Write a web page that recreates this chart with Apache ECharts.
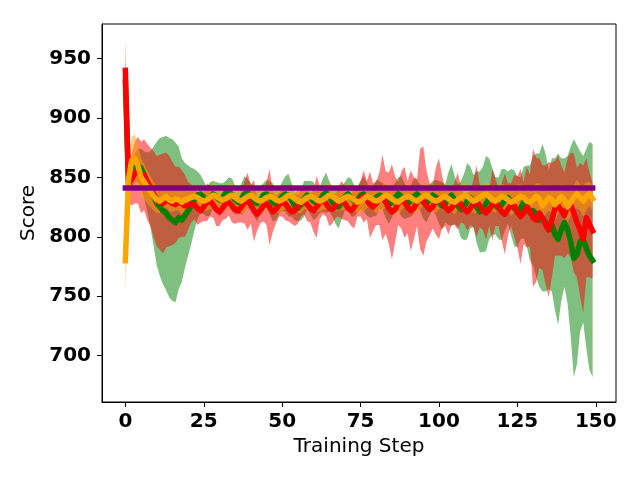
<!DOCTYPE html>
<html>
<head>
<meta charset="utf-8">
<script src="https://cdn.jsdelivr.net/npm/echarts@6/dist/echarts.min.js"></script>
<style>
  html, body { margin: 0; padding: 0; background: #fff; }
  #chart { width: 640px; height: 480px; }
</style>
</head>
<body>
<div id="chart"></div>
<script>
// tick labels
const xTicks = [0, 25, 50, 75, 100, 125, 150]
const yTicks = [700, 750, 800, 850, 900, 950]

// purple reference level
const baselineScore = 841
const lastStep = 149

// mean curves, one value per training step (0..149)
const greenMean = [
  930, 845, 852, 858, 860, 858, 852, 846, 840, 834,
  828, 825, 822, 820, 816, 814, 812, 816, 814, 818,
  822, 826, 831, 835, 836, 833, 829, 832, 836, 834,
  831, 833, 837, 838, 835, 831, 829, 832, 836, 837,
  834, 830, 828, 831, 835, 836, 833, 829, 827, 830,
  834, 836, 835, 831, 826, 824, 827, 832, 835, 833,
  830, 828, 831, 835, 837, 834, 829, 826, 825, 829,
  834, 836, 833, 830, 831, 835, 836, 832, 828, 830,
  833, 835, 834, 830, 827, 829, 833, 836, 834, 830,
  828, 830, 834, 836, 833, 829, 828, 831, 835, 833,
  829, 826, 828, 832, 835, 831, 826, 823, 825, 830,
  833, 830, 825, 821, 823, 828, 832, 830, 826, 824,
  827, 831, 833, 829, 824, 821, 824, 829, 826, 820,
  822, 818, 814, 816, 812, 806, 810, 802, 798, 806,
  812, 806, 796, 782, 785, 796, 798, 790, 784, 780
]
const redMean = [
  940, 845, 848, 854, 856, 850, 852, 846, 842, 836,
  830, 829, 828, 831, 830, 828, 827, 829, 828, 826,
  826, 828, 827, 824, 822, 825, 829, 830, 827, 823,
  821, 824, 828, 829, 826, 823, 822, 825, 829, 830,
  827, 822, 819, 822, 826, 828, 825, 821, 823, 827,
  829, 828, 824, 821, 822, 826, 829, 830, 827, 824,
  822, 825, 829, 831, 828, 824, 823, 826, 830, 831,
  828, 824, 822, 825, 829, 832, 834, 831, 827, 825,
  828, 832, 833, 829, 824, 821, 823, 828, 831, 829,
  825, 822, 824, 829, 832, 830, 826, 823, 825, 830,
  832, 829, 825, 822, 824, 828, 830, 827, 823, 821,
  824, 828, 830, 826, 822, 820, 823, 827, 829, 825,
  821, 819, 823, 827, 826, 821, 817, 820, 825, 822,
  816, 814, 820, 816, 810, 806, 814, 824, 826, 822,
  818, 826, 827, 820, 812, 806, 798, 816, 810, 805
]
const orangeMean = [
  780, 848, 864, 866, 860, 850, 846, 842, 838, 834,
  831, 830, 832, 834, 831, 830, 832, 831, 829, 831,
  832, 833, 834, 833, 831, 830, 831, 833, 835, 834,
  832, 831, 832, 834, 835, 833, 831, 830, 832, 834,
  835, 833, 831, 830, 831, 833, 834, 833, 831, 830,
  831, 833, 835, 834, 832, 830, 829, 831, 833, 834,
  833, 831, 830, 831, 833, 835, 834, 832, 830, 831,
  833, 834, 833, 831, 829, 830, 832, 834, 833, 831,
  830, 831, 833, 835, 834, 832, 830, 829, 831, 833,
  834, 833, 831, 830, 832, 834, 835, 833, 831, 830,
  831, 833, 834, 832, 830, 829, 831, 833, 835, 834,
  832, 830, 831, 833, 835, 836, 834, 831, 830, 832,
  834, 833, 831, 829, 830, 832, 834, 833, 830, 829,
  831, 834, 832, 826, 829, 833, 831, 827, 830, 834,
  831, 825, 829, 833, 836, 833, 830, 834, 836, 832
]

// spread (std) of each run, band = mean +/- spread
const greenStd = [
  5, 8, 10, 12, 14, 16, 20, 25, 32, 42,
  52, 58, 62, 65, 67, 68, 67, 60, 52, 44,
  38, 32, 26, 20, 16, 14, 12, 14, 11, 12,
  14, 12, 10, 12, 14, 12, 10, 13, 15, 12,
  11, 13, 15, 12, 10, 12, 14, 16, 13, 11,
  12, 15, 18, 14, 12, 11, 13, 15, 12, 14,
  16, 12, 11, 14, 17, 13, 12, 15, 18, 14,
  12, 14, 16, 13, 11, 12, 15, 14, 12, 13,
  15, 12, 11, 14, 16, 13, 12, 14, 17, 15,
  12, 13, 15, 12, 11, 14, 16, 13, 12, 15,
  18, 20, 16, 22, 26, 20, 18, 24, 28, 32,
  26, 22, 30, 34, 36, 40, 34, 28, 24, 26,
  30, 26, 22, 28, 32, 30, 26, 30, 34, 40,
  46, 52, 56, 62, 58, 50, 56, 64, 72, 60,
  54, 62, 80, 100, 92, 76, 70, 84, 96, 98
]
const redStd = [
  25, 15, 22, 26, 28, 30, 30, 32, 33, 36,
  38, 40, 42, 40, 38, 35, 32, 30, 28, 26,
  20, 16, 12, 14, 10, 12, 16, 13, 11, 14,
  12, 10, 13, 11, 14, 12, 10, 13, 18, 24,
  16, 26, 14, 11, 13, 18, 32, 17, 12, 10,
  12, 14, 11, 10, 13, 15, 12, 11, 14, 12,
  18, 26, 14, 12, 11, 15, 12, 10, 13, 16,
  14, 11, 13, 18, 12, 15, 22, 16, 28, 20,
  18, 22, 36, 26, 30, 40, 28, 18, 24, 30,
  22, 34, 26, 20, 42, 46, 30, 22, 18, 28,
  34, 22, 16, 20, 14, 18, 24, 15, 12, 16,
  14, 20, 30, 18, 16, 22, 14, 30, 20, 16,
  24, 34, 22, 18, 26, 30, 40, 26, 34, 30,
  58, 52, 46, 44, 50, 57, 48, 40, 42, 38,
  36, 40, 44, 50, 46, 56, 62, 50, 44, 40
]
const orangeStd = [
  25, 20, 20, 20, 18, 16, 15, 14, 13, 12,
  11, 10, 10, 9, 10, 9, 10, 9, 10, 9,
  8, 9, 10, 11, 9, 8, 9, 10, 11, 9,
  10, 8, 9, 11, 10, 9, 8, 10, 11, 9,
  9, 10, 8, 9, 11, 10, 9, 8, 10, 11,
  9, 10, 8, 9, 11, 10, 9, 8, 10, 9,
  11, 10, 9, 8, 10, 11, 9, 10, 8, 9,
  10, 11, 9, 8, 10, 9, 11, 10, 8, 9,
  10, 9, 11, 10, 8, 9, 10, 11, 9, 8,
  10, 9, 11, 10, 9, 8, 10, 11, 9, 10,
  8, 9, 11, 10, 9, 10, 8, 9, 11, 10,
  9, 10, 11, 9, 8, 10, 11, 9, 10, 9,
  11, 10, 9, 11, 10, 12, 10, 9, 11, 12,
  10, 11, 13, 12, 10, 11, 12, 13, 11, 10,
  12, 13, 11, 10, 12, 11, 13, 12, 10, 11
]

const chart = echarts.init(document.getElementById('chart'))

const pairs = arr => arr.map((v, i) => [i, v])

// mean +/- std band drawn as one polygon through the axis scales
function band(name, mean, std, color, z) {
  return {
    name: name + '_band', type: 'custom', z: z, silent: true, clip: true,
    data: [[0, mean[0]]],
    encode: { x: 0, y: 1 },
    renderItem: (params, api) => {
      const top = mean.map((m, i) => api.coord([i, m + std[i]]))
      const bottom = mean.map((m, i) => api.coord([i, m - std[i]])).reverse()
      return {
        type: 'polygon',
        shape: { points: top.concat(bottom) },
        style: { fill: color, stroke: null }
      }
    }
  }
}

function curve(name, data, color, z) {
  return {
    name: name, type: 'line', z: z, symbol: 'none', silent: true,
    lineStyle: { color: color, width: 5.5, cap: 'square', join: 'round' },
    data: data
  }
}

const axisText = { fontFamily: 'DejaVu Sans', fontSize: 20, color: '#000' }

const option = {
  animation: false,
  backgroundColor: '#fff',
  grid: { left: 102, right: 24, top: 24, bottom: 78, show: true, borderColor: '#000', borderWidth: 1 },
  xAxis: {
    type: 'value', min: -7.45, max: 156.45,
    name: 'Training Step', nameLocation: 'middle', nameGap: 33,
    nameTextStyle: axisText,
    axisLine: { show: true, onZero: false, lineStyle: { color: '#000', width: 1 } },
    axisTick: { show: true, length: 5, lineStyle: { color: '#000' }, customValues: xTicks },
    axisLabel: { ...axisText, fontWeight: 'bold', margin: 10, customValues: xTicks },
    splitLine: { show: false }
  },
  yAxis: {
    type: 'value', min: 661, max: 979,
    name: 'Score', nameLocation: 'middle', nameGap: 58,
    nameTextStyle: axisText,
    axisLine: { show: true, onZero: false, lineStyle: { color: '#000', width: 1 } },
    axisTick: { show: true, length: 5, lineStyle: { color: '#000' }, customValues: yTicks },
    axisLabel: { ...axisText, fontWeight: 'bold', margin: 11, customValues: yTicks },
    splitLine: { show: false }
  },
  series: [
    band('green', greenMean, greenStd, 'rgba(0,128,0,0.5)', 2),
    band('red', redMean, redStd, 'rgba(255,0,0,0.5)', 3),
    band('orange', orangeMean, orangeStd, 'rgba(255,165,0,0.5)', 4),
    curve('green', pairs(greenMean), 'green', 5),
    curve('red', pairs(redMean), 'red', 6),
    curve('orange', pairs(orangeMean), 'orange', 7),
    curve('baseline', [[0, baselineScore], [lastStep, baselineScore]], 'purple', 8)
  ]
}

chart.setOption(option)
</script>
</body>
</html>
